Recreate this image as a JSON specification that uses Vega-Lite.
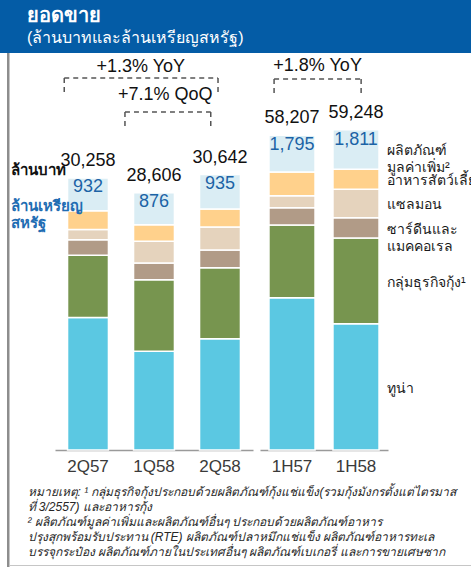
{
  "$schema": "https://vega.github.io/schema/vega-lite/v6.json",
  "padding": 0,
  "background": "white",
  "spacing": 0,
  "bounds": "flush",
  "config": {"font": "Liberation Sans", "view": {"stroke": null}},
  "datasets": {
    "segments": [
      {"period": "2Q57", "group": "Q", "order": 1, "segment": "ทูน่า", "value": 14735},
      {"period": "2Q57", "group": "Q", "order": 2, "segment": "กลุ่มธุรกิจกุ้ง¹", "value": 6916},
      {"period": "2Q57", "group": "Q", "order": 3, "segment": "ซาร์ดีนและ\nแมคคอเรล", "value": 1723},
      {"period": "2Q57", "group": "Q", "order": 4, "segment": "แซลมอน", "value": 1146},
      {"period": "2Q57", "group": "Q", "order": 5, "segment": "อาหารสัตว์เลี้ยง", "value": 2080},
      {"period": "2Q57", "group": "Q", "order": 6, "segment": "ผลิตภัณฑ์\nมูลค่าเพิ่ม²", "value": 3658},
      {"period": "1Q58", "group": "Q", "order": 1, "segment": "ทูน่า", "value": 10975},
      {"period": "1Q58", "group": "Q", "order": 2, "segment": "กลุ่มธุรกิจกุ้ง¹", "value": 7962},
      {"period": "1Q58", "group": "Q", "order": 3, "segment": "ซาร์ดีนและ\nแมคคอเรล", "value": 1857},
      {"period": "1Q58", "group": "Q", "order": 4, "segment": "แซลมอน", "value": 2413},
      {"period": "1Q58", "group": "Q", "order": 5, "segment": "อาหารสัตว์เลี้ยง", "value": 1846},
      {"period": "1Q58", "group": "Q", "order": 6, "segment": "ผลิตภัณฑ์\nมูลค่าเพิ่ม²", "value": 3553},
      {"period": "2Q58", "group": "Q", "order": 1, "segment": "ทูน่า", "value": 12377},
      {"period": "2Q58", "group": "Q", "order": 2, "segment": "กลุ่มธุรกิจกุ้ง¹", "value": 7895},
      {"period": "2Q58", "group": "Q", "order": 3, "segment": "ซาร์ดีนและ\nแมคคอเรล", "value": 1968},
      {"period": "2Q58", "group": "Q", "order": 4, "segment": "แซลมอน", "value": 2558},
      {"period": "2Q58", "group": "Q", "order": 5, "segment": "อาหารสัตว์เลี้ยง", "value": 2001},
      {"period": "2Q58", "group": "Q", "order": 6, "segment": "ผลิตภัณฑ์\nมูลค่าเพิ่ม²", "value": 3843},
      {"period": "1H57", "group": "H", "order": 1, "segment": "ทูน่า", "value": 28176},
      {"period": "1H57", "group": "H", "order": 2, "segment": "กลุ่มธุรกิจกุ้ง¹", "value": 13449},
      {"period": "1H57", "group": "H", "order": 3, "segment": "ซาร์ดีนและ\nแมคคอเรล", "value": 3201},
      {"period": "1H57", "group": "H", "order": 4, "segment": "แซลมอน", "value": 2220},
      {"period": "1H57", "group": "H", "order": 5, "segment": "อาหารสัตว์เลี้ยง", "value": 4384},
      {"period": "1H57", "group": "H", "order": 6, "segment": "ผลิตภัณฑ์\nมูลค่าเพิ่ม²", "value": 6777},
      {"period": "1H58", "group": "H", "order": 1, "segment": "ทูน่า", "value": 23366},
      {"period": "1H58", "group": "H", "order": 2, "segment": "กลุ่มธุรกิจกุ้ง¹", "value": 15854},
      {"period": "1H58", "group": "H", "order": 3, "segment": "ซาร์ดีนและ\nแมคคอเรล", "value": 3756},
      {"period": "1H58", "group": "H", "order": 4, "segment": "แซลมอน", "value": 5254},
      {"period": "1H58", "group": "H", "order": 5, "segment": "อาหารสัตว์เลี้ยง", "value": 3700},
      {"period": "1H58", "group": "H", "order": 6, "segment": "ผลิตภัณฑ์\nมูลค่าเพิ่ม²", "value": 7318}
    ],
    "totals": [
      {"period": "2Q57", "group": "Q", "thb": 30258, "usd": 932},
      {"period": "1Q58", "group": "Q", "thb": 28606, "usd": 876},
      {"period": "2Q58", "group": "Q", "thb": 30642, "usd": 935},
      {"period": "1H57", "group": "H", "thb": 58207, "usd": 1795},
      {"period": "1H58", "group": "H", "thb": 59248, "usd": 1811}
    ],
    "ann": [
      {"panel": "L", "label": "+1.3% YoY", "x1": 0.14, "x2": 2.47, "xm": 1.3, "yt": 42600, "yb": 41380, "ye": 39490},
      {"panel": "L", "label": "+7.1% QoQ", "x1": 1.06, "x2": 2.36, "xm": 1.67, "yt": 39490, "yb": 37600, "ye": 35930},
      {"panel": "R", "label": "+1.8% YoY", "x1": 0.22, "x2": 1.58, "xm": 0.9, "yt": 71030, "yb": 68630, "ye": 66040}
    ]
  },
  "vconcat": [
    {
      "width": 471,
      "height": 53,
      "view": {"fill": "#045ca6", "stroke": null},
      "data": {"values": []},
      "mark": "point",
      "title": {
        "text": "ยอดขาย",
        "subtitle": "(ล้านบาทและล้านเหรียญสหรัฐ)",
        "orient": "bottom",
        "anchor": "start",
        "frame": "group",
        "offset": -47,
        "dx": 27,
        "color": "white",
        "fontSize": 20,
        "fontWeight": "bold",
        "subtitleColor": "white",
        "subtitleFontSize": 16,
        "subtitlePadding": 4
      }
    },
    {
      "spacing": 0,
      "bounds": "flush",
      "hconcat": [
        {"width": 7, "height": 514, "data": {"values": []}, "mark": "point"},
        {"width": 2.5, "height": 514, "view": {"fill": "#8d8d8d", "stroke": null}, "data": {"values": []}, "mark": "point"},
        {
          "spacing": 0,
          "bounds": "full",
          "vconcat": [
            {
              "spacing": 7,
              "bounds": "flush",
              "hconcat": [
                {"width": 37.5, "height": 397, "data": {"values": []}, "mark": "point"},
                {
                  "width": 198,
                  "height": 397,
                  "resolve": {"scale": {"x": "independent"}},
                  "layer": [
                    {
                      "data": {"name": "segments"},
                      "transform": [
                        {"filter": {"field": "group", "equal": "Q"}},
                        {"stack": "value", "groupby": ["period"], "sort": [{"field": "order", "order": "ascending"}], "as": ["v0", "v1"]}
                      ],
                      "mark": {"type": "bar", "stroke": "white", "strokeWidth": 1.5},
                      "encoding": {
                        "x": {"field": "period", "type": "nominal", "scale": {"type": "band", "domain": ["2Q57", "1Q58", "2Q58"], "paddingInner": 0.38, "paddingOuter": 0.19},
                          "axis": {"title": null, "ticks": false, "labelAngle": 0, "labelFontSize": 17, "labelColor": "#3a3a3a", "labelPadding": 8, "domainColor": "#9a9a9a", "domainWidth": 1.5}},
                        "y": {"field": "v1", "type": "quantitative", "scale": {"domain": [0, 44160], "nice": false}, "axis": null},
                        "y2": {"field": "v0"},
                        "color": {"field": "segment", "type": "nominal", "legend": null,
                          "scale": {"domain": ["ทูน่า", "กลุ่มธุรกิจกุ้ง¹", "ซาร์ดีนและ\nแมคคอเรล", "แซลมอน", "อาหารสัตว์เลี้ยง", "ผลิตภัณฑ์\nมูลค่าเพิ่ม²"],
                            "range": ["#5bc8e2", "#77954f", "#b19b87", "#e5d3bd", "#ffd18c", "#daedf4"]}}
                      }
                    },
                    {
                      "data": {"name": "totals"},
                      "transform": [{"filter": {"field": "group", "equal": "Q"}}],
                      "mark": {"type": "text", "fontSize": 18, "baseline": "alphabetic", "dy": -12, "color": "#111111"},
                      "encoding": {
                        "x": {"field": "period", "type": "nominal", "scale": {"type": "band", "domain": ["2Q57", "1Q58", "2Q58"], "paddingInner": 0.38, "paddingOuter": 0.19}, "axis": null},
                        "y": {"field": "thb", "type": "quantitative", "scale": {"domain": [0, 44160], "nice": false}, "axis": null},
                        "text": {"field": "thb", "type": "quantitative", "format": ","}
                      }
                    },
                    {
                      "data": {"name": "totals"},
                      "transform": [{"filter": {"field": "group", "equal": "Q"}}],
                      "mark": {"type": "text", "fontSize": 18, "baseline": "alphabetic", "dy": 14, "color": "#1c63a6"},
                      "encoding": {
                        "x": {"field": "period", "type": "nominal", "scale": {"type": "band", "domain": ["2Q57", "1Q58", "2Q58"], "paddingInner": 0.38, "paddingOuter": 0.19}, "axis": null},
                        "y": {"field": "thb", "type": "quantitative", "scale": {"domain": [0, 44160], "nice": false}, "axis": null},
                        "text": {"field": "usd", "type": "quantitative", "format": ","}
                      }
                    },
                    {
                      "data": {"name": "totals"},
                      "transform": [{"filter": {"field": "period", "equal": "2Q57"}}],
                      "mark": {"type": "text", "text": "ล้านบาท", "align": "left", "baseline": "middle", "dx": -77.5, "dy": -8, "fontSize": 15, "fontWeight": "bold", "color": "#111111"},
                      "encoding": {
                        "x": {"field": "period", "type": "nominal", "scale": {"type": "band", "domain": ["2Q57", "1Q58", "2Q58"], "paddingInner": 0.38, "paddingOuter": 0.19}, "axis": null},
                        "y": {"field": "thb", "type": "quantitative", "scale": {"domain": [0, 44160], "nice": false}, "axis": null}
                      }
                    },
                    {
                      "data": {"name": "totals"},
                      "transform": [{"filter": {"field": "period", "equal": "2Q57"}}],
                      "mark": {"type": "text", "text": ["ล้านเหรียญ", "สหรัฐ"], "lineHeight": 17, "align": "left", "baseline": "middle", "dx": -77.5, "dy": 28.5, "fontSize": 15, "fontWeight": "bold", "color": "#1f6db3"},
                      "encoding": {
                        "x": {"field": "period", "type": "nominal", "scale": {"type": "band", "domain": ["2Q57", "1Q58", "2Q58"], "paddingInner": 0.38, "paddingOuter": 0.19}, "axis": null},
                        "y": {"field": "thb", "type": "quantitative", "scale": {"domain": [0, 44160], "nice": false}, "axis": null}
                      }
                    },
                    {
                      "data": {"name": "ann"},
                      "transform": [{"filter": {"field": "panel", "equal": "L"}}],
                      "mark": {"type": "rule", "strokeDash": [5, 4], "strokeWidth": 1.5, "color": "#555555"},
                      "encoding": {
                        "x": {"field": "x1", "type": "quantitative", "scale": {"domain": [0, 3], "nice": false, "zero": false}, "axis": null},
                        "x2": {"field": "x2"},
                        "y": {"field": "yb", "type": "quantitative", "scale": {"domain": [0, 44160], "nice": false}, "axis": null}
                      }
                    },
                    {
                      "data": {"name": "ann"},
                      "transform": [{"filter": {"field": "panel", "equal": "L"}}, {"fold": ["x1", "x2"], "as": ["side", "xe"]}],
                      "mark": {"type": "rule", "strokeDash": [5, 4], "strokeWidth": 1.5, "color": "#555555"},
                      "encoding": {
                        "x": {"field": "xe", "type": "quantitative", "scale": {"domain": [0, 3], "nice": false, "zero": false}, "axis": null},
                        "y": {"field": "yb", "type": "quantitative", "scale": {"domain": [0, 44160], "nice": false}, "axis": null},
                        "y2": {"field": "ye"}
                      }
                    },
                    {
                      "data": {"name": "ann"},
                      "transform": [{"filter": {"field": "panel", "equal": "L"}}],
                      "mark": {"type": "text", "fontSize": 18, "baseline": "middle", "color": "#111111"},
                      "encoding": {
                        "x": {"field": "xm", "type": "quantitative", "scale": {"domain": [0, 3], "nice": false, "zero": false}, "axis": null},
                        "y": {"field": "yt", "type": "quantitative", "scale": {"domain": [0, 44160], "nice": false}, "axis": null},
                        "text": {"field": "label"}
                      }
                    }
                  ]
                },
                {
                  "width": 128,
                  "height": 397,
                  "resolve": {"scale": {"x": "independent"}},
                  "layer": [
                    {
                      "data": {"name": "segments"},
                      "transform": [
                        {"filter": {"field": "group", "equal": "H"}},
                        {"stack": "value", "groupby": ["period"], "sort": [{"field": "order", "order": "ascending"}], "as": ["v0", "v1"]}
                      ],
                      "mark": {"type": "bar", "stroke": "white", "strokeWidth": 1.5},
                      "encoding": {
                        "x": {"field": "period", "type": "nominal", "scale": {"type": "band", "domain": ["1H57", "1H58"], "paddingInner": 0.28, "paddingOuter": 0.14},
                          "axis": {"title": null, "ticks": false, "labelAngle": 0, "labelFontSize": 17, "labelColor": "#3a3a3a", "labelPadding": 8, "domainColor": "#9a9a9a", "domainWidth": 1.5}},
                        "y": {"field": "v1", "type": "quantitative", "scale": {"domain": [0, 73437], "nice": false}, "axis": null},
                        "y2": {"field": "v0"},
                        "color": {"field": "segment", "type": "nominal", "legend": null,
                          "scale": {"domain": ["ทูน่า", "กลุ่มธุรกิจกุ้ง¹", "ซาร์ดีนและ\nแมคคอเรล", "แซลมอน", "อาหารสัตว์เลี้ยง", "ผลิตภัณฑ์\nมูลค่าเพิ่ม²"],
                            "range": ["#5bc8e2", "#77954f", "#b19b87", "#e5d3bd", "#ffd18c", "#daedf4"]}}
                      }
                    },
                    {
                      "data": {"name": "totals"},
                      "transform": [{"filter": {"field": "group", "equal": "H"}}],
                      "mark": {"type": "text", "fontSize": 18, "baseline": "alphabetic", "dy": -12, "color": "#111111"},
                      "encoding": {
                        "x": {"field": "period", "type": "nominal", "scale": {"type": "band", "domain": ["1H57", "1H58"], "paddingInner": 0.28, "paddingOuter": 0.14}, "axis": null},
                        "y": {"field": "thb", "type": "quantitative", "scale": {"domain": [0, 73437], "nice": false}, "axis": null},
                        "text": {"field": "thb", "type": "quantitative", "format": ","}
                      }
                    },
                    {
                      "data": {"name": "totals"},
                      "transform": [{"filter": {"field": "group", "equal": "H"}}],
                      "mark": {"type": "text", "fontSize": 18, "baseline": "alphabetic", "dy": 15, "color": "#1c63a6"},
                      "encoding": {
                        "x": {"field": "period", "type": "nominal", "scale": {"type": "band", "domain": ["1H57", "1H58"], "paddingInner": 0.28, "paddingOuter": 0.14}, "axis": null},
                        "y": {"field": "thb", "type": "quantitative", "scale": {"domain": [0, 73437], "nice": false}, "axis": null},
                        "text": {"field": "usd", "type": "quantitative", "format": ","}
                      }
                    },
                    {
                      "data": {"name": "segments"},
                      "transform": [
                        {"filter": {"field": "period", "equal": "1H58"}},
                        {"stack": "value", "groupby": ["period"], "sort": [{"field": "order", "order": "ascending"}], "as": ["v0", "v1"]},
                        {"fold": ["v0", "v1"], "as": ["end", "v"]},
                        {"aggregate": [{"op": "mean", "field": "v", "as": "mid"}], "groupby": ["period", "segment"]}
                      ],
                      "mark": {"type": "text", "align": "left", "baseline": "middle", "dx": 8, "dy": 2, "fontSize": 14, "color": "#1a1a1a", "lineBreak": "\n", "lineHeight": 17},
                      "encoding": {
                        "x": {"field": "period", "type": "nominal", "bandPosition": 1, "scale": {"type": "band", "domain": ["1H57", "1H58"], "paddingInner": 0.28, "paddingOuter": 0.14}, "axis": null},
                        "y": {"field": "mid", "type": "quantitative", "scale": {"domain": [0, 73437], "nice": false}, "axis": null},
                        "text": {"field": "segment"}
                      }
                    },
                    {
                      "data": {"name": "ann"},
                      "transform": [{"filter": {"field": "panel", "equal": "R"}}],
                      "mark": {"type": "rule", "strokeDash": [5, 4], "strokeWidth": 1.5, "color": "#555555"},
                      "encoding": {
                        "x": {"field": "x1", "type": "quantitative", "scale": {"domain": [0, 2], "nice": false, "zero": false}, "axis": null},
                        "x2": {"field": "x2"},
                        "y": {"field": "yb", "type": "quantitative", "scale": {"domain": [0, 73437], "nice": false}, "axis": null}
                      }
                    },
                    {
                      "data": {"name": "ann"},
                      "transform": [{"filter": {"field": "panel", "equal": "R"}}, {"fold": ["x1", "x2"], "as": ["side", "xe"]}],
                      "mark": {"type": "rule", "strokeDash": [5, 4], "strokeWidth": 1.5, "color": "#555555"},
                      "encoding": {
                        "x": {"field": "xe", "type": "quantitative", "scale": {"domain": [0, 2], "nice": false, "zero": false}, "axis": null},
                        "y": {"field": "yb", "type": "quantitative", "scale": {"domain": [0, 73437], "nice": false}, "axis": null},
                        "y2": {"field": "ye"}
                      }
                    },
                    {
                      "data": {"name": "ann"},
                      "transform": [{"filter": {"field": "panel", "equal": "R"}}],
                      "mark": {"type": "text", "fontSize": 18, "baseline": "middle", "color": "#111111"},
                      "encoding": {
                        "x": {"field": "xm", "type": "quantitative", "scale": {"domain": [0, 2], "nice": false, "zero": false}, "axis": null},
                        "y": {"field": "yt", "type": "quantitative", "scale": {"domain": [0, 73437], "nice": false}, "axis": null},
                        "text": {"field": "label"}
                      }
                    }
                  ]
                }
              ]
            },
            {
              "width": 461.5,
              "height": 91,
              "data": {"values": []},
              "mark": "point",
              "title": {
                "text": [
                  "หมายเหตุ: ¹ กลุ่มธุรกิจกุ้งประกอบด้วยผลิตภัณฑ์กุ้งแช่แข็ง(รวมกุ้งมังกรตั้งแต่ไตรมาส",
                  "\u2003\u2003\u2003\u2003\u2003ที่ 3/2557) และอาหารกุ้ง",
                  "\u2003\u2003\u2003\u2003\u2002² ผลิตภัณฑ์มูลค่าเพิ่มและผลิตภัณฑ์อื่นๆ ประกอบด้วยผลิตภัณฑ์อาหาร",
                  "ปรุงสุกพร้อมรับประทาน (RTE) ผลิตภัณฑ์ปลาหมึกแช่แข็ง ผลิตภัณฑ์อาหารทะเล",
                  "บรรจุกระป๋อง ผลิตภัณฑ์ภายในประเทศอื่นๆ ผลิตภัณฑ์เบเกอรี่ และการขายเศษซาก"
                ],
                "orient": "bottom",
                "anchor": "start",
                "frame": "group",
                "offset": -78,
                "dx": 17.5,
                "fontSize": 12,
                "fontStyle": "italic",
                "fontWeight": "normal",
                "color": "#262626",
                "lineHeight": 15
              }
            },
            {"width": 461.5, "height": 1, "view": {"fill": "#c6c6c6", "stroke": null}, "data": {"values": []}, "mark": "point"}
          ]
        }
      ]
    }
  ]
}
